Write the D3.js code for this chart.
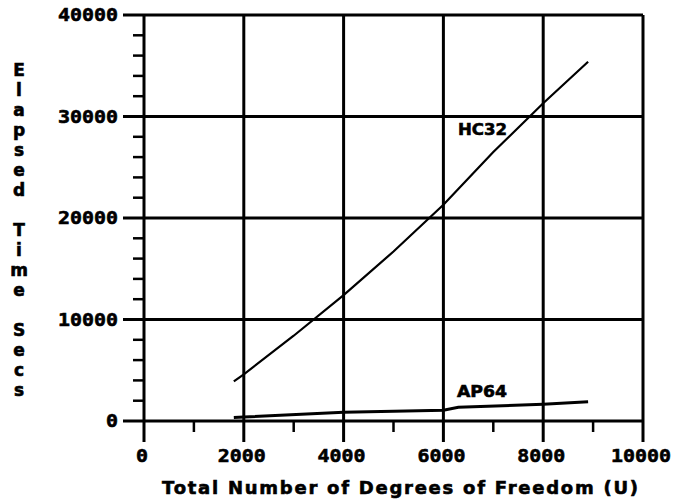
<!DOCTYPE html>
<html>
<head>
<meta charset="utf-8">
<script src="https://cdn.jsdelivr.net/npm/d3@7"></script>
<style>
  body { margin: 0; background: #fff; }
  text { font-family: "DejaVu Sans", sans-serif; font-weight: bold; fill: #000; stroke: #000; stroke-width: 0.6px; }
  .num { font-family: "DejaVu Sans Mono", monospace; }
</style>
</head>
<body>
<div id="chart"></div>
<script>
// data
var dofValues = [1800, 2000, 3000, 4000, 5000, 6000, 7000, 8000, 8900];
var hc32Time  = [3900, 4600, 8400, 12400, 16700, 21300, 26500, 31300, 35400];
var ap64Dof   = [1800, 2000, 4000, 6000, 6300, 8000, 8900];
var ap64Time  = [350, 400, 850, 1050, 1350, 1650, 1900];

var xMajor = [0, 2000, 4000, 6000, 8000, 10000];
var xMinor = [1000, 3000, 5000, 7000, 9000];
var yMajor = [0, 10000, 20000, 30000, 40000];
var yMinor = [2000, 4000, 6000, 8000, 12000, 14000, 16000, 18000,
              22000, 24000, 26000, 28000, 32000, 34000, 36000, 38000];

var yTitle = "Elapsed Time Secs";
var xTitle = "Total Number of Degrees of Freedom (U)";

var svgWidth = 673, svgHeight = 504;

var svg = d3.select("#chart")
  .append("svg")
  .attr("width", svgWidth)
  .attr("height", svgHeight);

var x = d3.scaleLinear().domain([0, 10000]).range([144, 643]);
var y = d3.scaleLinear().domain([0, 40000]).range([421, 15]);

// grid lines (major)
svg.append("g").selectAll("line")
  .data(yMajor)
  .enter().append("line")
  .attr("x1", x(0) - 21)
  .attr("x2", x(10000))
  .attr("y1", d => y(d))
  .attr("y2", d => y(d))
  .attr("stroke", "#000")
  .attr("stroke-width", 3);

svg.append("g").selectAll("line")
  .data(xMajor)
  .enter().append("line")
  .attr("x1", d => x(d))
  .attr("x2", d => x(d))
  .attr("y1", y(40000))
  .attr("y2", y(0) + 21)
  .attr("stroke", "#000")
  .attr("stroke-width", 3);

// minor ticks
svg.append("g").selectAll("line")
  .data(yMinor)
  .enter().append("line")
  .attr("x1", x(0) - 11)
  .attr("x2", x(0))
  .attr("y1", d => y(d))
  .attr("y2", d => y(d))
  .attr("stroke", "#000")
  .attr("stroke-width", 2.5);

svg.append("g").selectAll("line")
  .data(xMinor)
  .enter().append("line")
  .attr("x1", d => x(d))
  .attr("x2", d => x(d))
  .attr("y1", y(0))
  .attr("y2", y(0) + 11)
  .attr("stroke", "#000")
  .attr("stroke-width", 2.5);

// tick labels
svg.append("g").selectAll("text")
  .data(yMajor)
  .enter().append("text")
  .attr("class", "num")
  .attr("x", 118)
  .attr("y", d => y(d) + 6)
  .attr("text-anchor", "end")
  .style("font-size", "18px")
  .attr("textLength", d => String(d).length * 12)
  .attr("lengthAdjust", "spacingAndGlyphs")
  .text(d => d);

svg.append("g").selectAll("text")
  .data(xMajor)
  .enter().append("text")
  .attr("class", "num")
  .attr("x", d => x(d) - 2)
  .attr("y", 462)
  .attr("text-anchor", "middle")
  .style("font-size", "18px")
  .attr("textLength", d => String(d).length * 12)
  .attr("lengthAdjust", "spacingAndGlyphs")
  .text(d => d);

// axis titles
svg.append("text")
  .attr("x", 400)
  .attr("y", 494)
  .attr("text-anchor", "middle")
  .style("font-size", "18px")
  .attr("textLength", 476)
  .attr("lengthAdjust", "spacing")
  .text(xTitle);

svg.append("g").selectAll("text")
  .data(yTitle.split(""))
  .enter().append("text")
  .attr("x", 19)
  .attr("y", (d, i) => 76 + i * 20)
  .attr("text-anchor", "middle")
  .style("font-size", "17px")
  .text(d => d);

// series
var line = d3.line()
  .x(d => x(d[0]))
  .y(d => y(d[1]));

svg.append("path")
  .datum(d3.zip(dofValues, hc32Time))
  .attr("d", line)
  .attr("fill", "none")
  .attr("stroke", "#000")
  .attr("stroke-width", 2.2);

svg.append("path")
  .datum(d3.zip(ap64Dof, ap64Time))
  .attr("d", line)
  .attr("fill", "none")
  .attr("stroke", "#000")
  .attr("stroke-width", 3);

// series labels
svg.append("text")
  .attr("x", 458)
  .attr("y", 135)
  .style("font-size", "16px")
  .attr("textLength", 49)
  .attr("lengthAdjust", "spacingAndGlyphs")
  .text("HC32");

svg.append("text")
  .attr("x", 457)
  .attr("y", 397)
  .style("font-size", "16px")
  .attr("textLength", 50)
  .attr("lengthAdjust", "spacingAndGlyphs")
  .text("AP64");
</script>
</body>
</html>
